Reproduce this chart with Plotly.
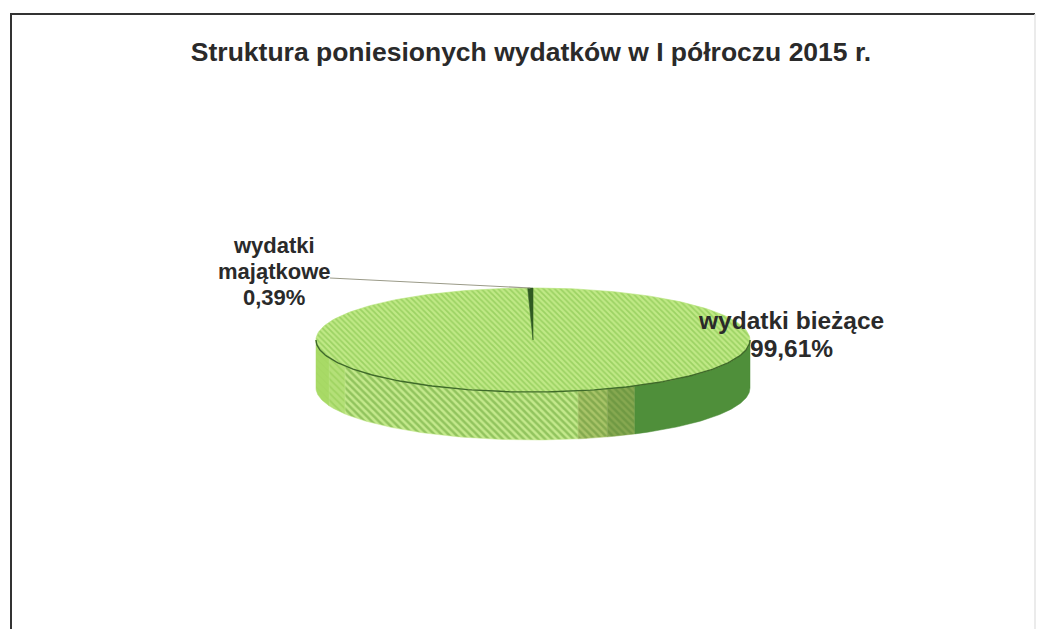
import numpy as np
import plotly.graph_objects as go

TITLE = "Struktura poniesionych wydatków w I półroczu 2015 r."
categories = ["wydatki bieżące", "wydatki majątkowe"]
label_lines = [["wydatki bieżące"], ["wydatki", "majątkowe"]]
values = [99.61, 0.39]

# pie drawing geometry (page pixels)
W, H = 1037, 629
CX, CY, RX, RY, DEPTH = 533, 340, 217, 52, 48

def px(t):
    return CX + RX * np.cos(t), CY + RY * np.sin(t)

fig = go.Figure()

# side wall: bands across the visible front, colour shifting to dark on the right
bands = [
    (180, 160, "#a8da66", "#9fd25c", 0.2),
    (160, 150, "#b4e078", "#8cc84c", 0.35),
    (150, 78, "#c4e98c", "#5f9f30", 0.5),
    (78, 70, "#a8c468", "#5f8f34", 0.5),
    (70, 62, "#86a850", "#5a8a36", 0.5),
    (62, 0, "#4f8f3a", "#4f8f3a", 0.0),
]
for a0, a1, bg, fg, sol in bands:
    t = np.radians(np.linspace(a0, a1, 80))
    x, y = px(t)
    xs = np.r_[x, x[::-1], x[0]]
    ys = np.r_[y, (y + DEPTH)[::-1], y[0]]
    pat = dict(shape="\\", bgcolor=bg, fgcolor=fg, size=5, solidity=sol) if sol else None
    fig.add_trace(go.Scatter(x=xs, y=ys, mode="lines", line=dict(width=0.5, color=bg),
                             fill="toself", fillcolor=bg, fillpattern=pat,
                             hoverinfo="skip", showlegend=False))

# top face: one wedge per value, clockwise from twelve o'clock
start = -90.0
top_styles = [
    dict(fill="#b4e276", pat=dict(shape="\\", bgcolor="#c0e986", fgcolor="#78bc40", size=4, solidity=0.45)),
    dict(fill="#2f5a22", pat=None),
]
for name, v, st in zip(categories, values, top_styles):
    sweep = v / sum(values) * 360
    t = np.radians(np.linspace(start, start + sweep, 240))
    x, y = px(t)
    fig.add_trace(go.Scatter(x=np.r_[CX, x, CX], y=np.r_[CY, y, CY], mode="lines",
                             line=dict(width=0.6, color=st["fill"]), fill="toself",
                             fillcolor=st["fill"], fillpattern=st["pat"],
                             name=name, hoverinfo="name", showlegend=False))
    start += sweep

# dark rim along the front of the top face
t = np.radians(np.linspace(180, 0, 160))
x, y = px(t)
fig.add_trace(go.Scatter(x=x, y=y, mode="lines", line=dict(width=1.4, color="#3f6a2a"),
                         hoverinfo="skip", showlegend=False))

# leader line to the small slice
mid = np.radians(-90 - values[1] / sum(values) * 180)
lx, ly = px(mid)
fig.add_trace(go.Scatter(x=[330, lx], y=[278, ly], mode="lines",
                         line=dict(width=1.2, color="#9a9a88"),
                         hoverinfo="skip", showlegend=False))

fmt = lambda v: f"{v:.2f}".replace(".", ",") + "%"

def label(lines, value, x, y0, dy, size):
    for i, s in enumerate(lines + [fmt(value)]):
        fig.add_annotation(x=x, y=y0 + i * dy, xref="x", yref="y", showarrow=False,
                           text=f"<b>{s}</b>",
                           font=dict(family="Liberation Sans", size=size, color="#2a2a2a"))

label(label_lines[0], values[0], 791, 320, 28, 24.5)
label(label_lines[1], values[1], 274, 245, 26, 22)

# chart frame (bottom edge lies outside the picture)
fig.add_shape(type="path", path=f"M 11 {H} L 11 14 L {W-2} 14", xref="x", yref="y",
              line=dict(color="#333333", width=2))
fig.add_shape(type="line", x0=W-2, x1=W-2, y0=14, y1=H, xref="x", yref="y",
              line=dict(color="#e4e4e4", width=1.5))

fig.update_layout(
    width=W, height=H, margin=dict(l=0, r=0, t=0, b=0),
    paper_bgcolor="white", plot_bgcolor="white",
    title=dict(text=f"<b>{TITLE}</b>", x=531 / W, xanchor="center", y=1 - 52 / H, yanchor="middle",
               font=dict(family="Liberation Sans", size=26.5, color="#2a2a2a")),
    xaxis=dict(range=[0, W], visible=False, fixedrange=True),
    yaxis=dict(range=[H, 0], visible=False, fixedrange=True),
)
fig.write_html("out.html", config=dict(displayModeBar=False),
               post_script="document.body.style.margin='0';")
